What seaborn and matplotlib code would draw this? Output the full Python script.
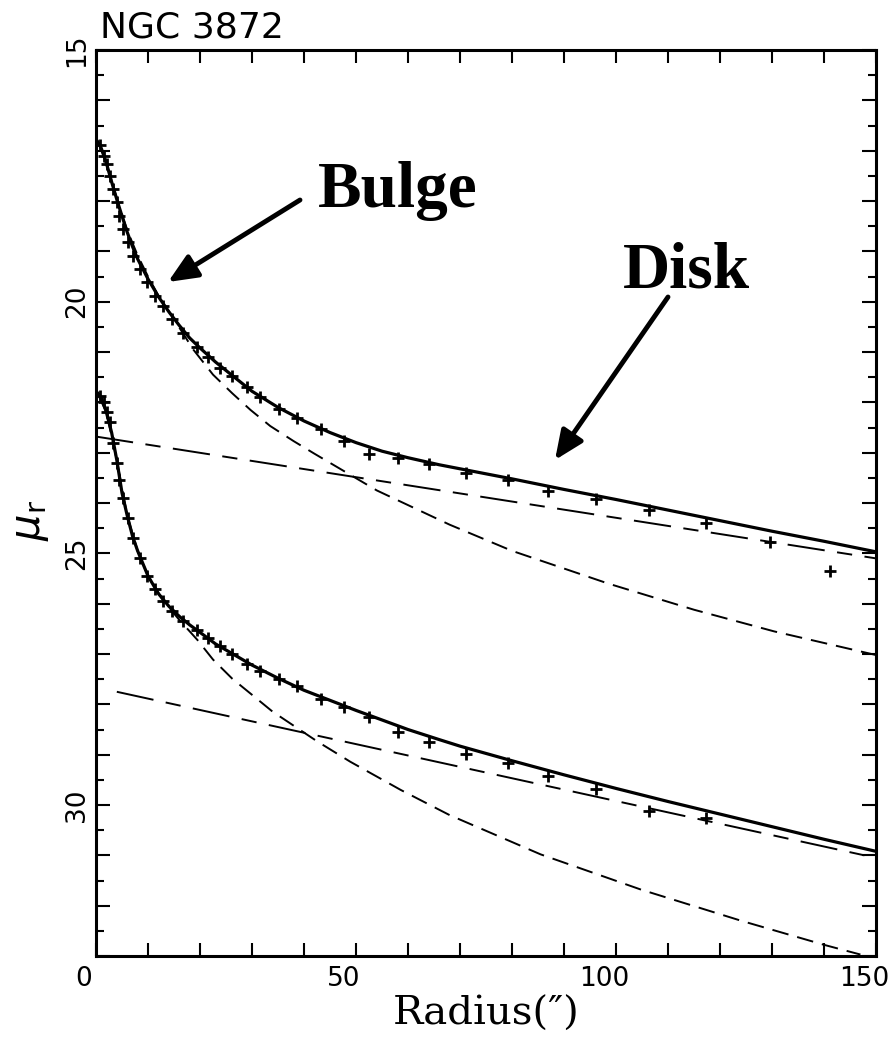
import numpy as np
import pandas as pd
import matplotlib
matplotlib.use("Agg")
import matplotlib.pyplot as plt
import matplotlib.transforms as mtransforms
from matplotlib.ticker import FuncFormatter
import seaborn as sns

# measured points (radius in arcsec, surface brightness in mag/arcsec^2)
r_pts = [0.8, 1.5, 2.1, 2.7, 3.3, 4.0, 4.5, 5.2, 6.2, 7.1, 8.5, 9.8, 11.4, 12.9,
         14.6, 16.7, 19.5, 21.6, 23.9, 26.2, 29.1, 31.6, 35.1, 38.7, 43.2, 47.6,
         52.4, 58.0, 64.0, 71.1, 79.2, 86.9, 96.1, 106.4, 117.3, 129.7, 141.2]
mu_upper_pts = [16.88, 17.11, 17.27, 17.51, 17.77, 18.02, 18.30, 18.56, 18.81, 19.09,
                19.35, 19.60, 19.88, 20.08, 20.34, 20.62, 20.90, 21.10, 21.32, 21.48,
                21.70, 21.90, 22.13, 22.31, 22.53, 22.76, 23.02, 23.10, 23.22, 23.40,
                23.54, 23.76, 23.93, 24.13, 24.39, 24.78, 25.36]
r_lower_pts = r_pts[:35]
mu_lower_pts = [21.88, 22.00, 22.20, 22.40, 22.80, 23.20, 23.55, 23.90, 24.30, 24.70,
                25.10, 25.45, 25.70, 25.95, 26.15, 26.35, 26.52, 26.68, 26.84, 27.00,
                27.19, 27.33, 27.50, 27.63, 27.89, 28.05, 28.25, 28.54, 28.74, 28.99,
                29.17, 29.43, 29.68, 30.12, 30.26]

# total fit (bulge + disk)
r_fit = [0.2, 1, 2, 3, 4, 5, 6, 7, 8, 10, 12, 14, 16, 18, 20, 23, 26, 30, 35, 40,
         45, 50, 55, 60, 66, 70, 80, 90, 100, 110, 120, 130, 140, 150]
mu_upper_fit = [16.80, 16.95, 17.25, 17.62, 17.97, 18.30, 18.62, 18.90, 19.15, 19.55,
                19.90, 20.20, 20.47, 20.72, 20.92, 21.20, 21.45, 21.78, 22.10, 22.37,
                22.60, 22.80, 22.97, 23.10, 23.24, 23.32, 23.52, 23.73, 23.93, 24.14,
                24.35, 24.56, 24.76, 24.97]
mu_lower_fit = [21.80, 21.90, 22.20, 22.60, 23.15, 23.80, 24.25, 24.65, 24.95, 25.45,
                25.80, 26.05, 26.25, 26.42, 26.57, 26.80, 26.98, 27.22, 27.48, 27.72,
                27.92, 28.12, 28.31, 28.50, 28.70, 28.83, 29.12, 29.40, 29.67, 29.93,
                30.18, 30.43, 30.68, 30.92]

# bulge components
r_bulge_upper = [0.2, 1, 2, 4, 6, 8, 10, 12, 15, 18.7, 22.5, 26.2, 29.7, 33.5, 38, 42,
                 54, 68, 80, 98.5, 115, 130.4, 150]
mu_bulge_upper = [16.80, 16.97, 17.25, 17.95, 18.58, 19.08, 19.50, 19.88, 20.35, 20.95,
                  21.45, 21.82, 22.15, 22.47, 22.77, 23.02, 23.75, 24.43, 24.95, 25.60,
                  26.12, 26.55, 27.02]
r_bulge_lower = [0.2, 2, 4, 6, 8, 10, 13, 16, 19.5, 22.5, 26.2, 30, 33.9, 42.6, 48.9,
                 58.6, 68, 85.5, 104.8, 124.1, 140.1, 147]
mu_bulge_lower = [21.80, 22.20, 23.15, 24.25, 24.95, 25.45, 25.95, 26.32, 26.72, 27.11,
                  27.49, 27.81, 28.14, 28.74, 29.14, 29.70, 30.20, 30.98, 31.68, 32.30,
                  32.78, 32.97]

# disk components
r_disk_upper = [0, 150]
mu_disk_upper = [22.68, 25.10]
r_disk_lower = [4, 150]
mu_disk_lower = [27.75, 31.05]

sns.set_style("ticks")
plt.rcParams["font.family"] = ["DejaVu Sans"]
plt.rcParams["lines.scale_dashes"] = False
plt.rcParams["mathtext.fontset"] = "dejavusans"
plt.rcParams["text.color"] = "black"
plt.rcParams["xtick.color"] = "black"
plt.rcParams["ytick.color"] = "black"

fig = plt.figure(figsize=(8.94, 10.46), dpi=100)
ax = fig.add_axes([0.1074, 0.0860, 0.8725, 0.8662])

short_dash = (0, (12, 6.5))
long_dash = (0, (27, 9, 11, 9))

for r, mu in [(r_fit, mu_upper_fit), (r_fit, mu_lower_fit)]:
    sns.lineplot(x=r, y=mu, ax=ax, color="black", linewidth=2.3,
                 errorbar=None, sort=False)
for r, mu in [(r_bulge_upper, mu_bulge_upper), (r_bulge_lower, mu_bulge_lower)]:
    sns.lineplot(x=r, y=mu, ax=ax, color="black", linewidth=1.4,
                 linestyle=short_dash, errorbar=None, sort=False)
for r, mu in [(r_disk_upper, mu_disk_upper), (r_disk_lower, mu_disk_lower)]:
    sns.lineplot(x=r, y=mu, ax=ax, color="black", linewidth=1.4,
                 linestyle=long_dash, errorbar=None, sort=False)

pts = pd.concat([
    pd.DataFrame({"r": r_pts, "mu": mu_upper_pts}),
    pd.DataFrame({"r": r_lower_pts, "mu": mu_lower_pts}),
])
sns.scatterplot(data=pts, x="r", y="mu", ax=ax, marker="+", s=85,
                color="black", linewidth=2.0, zorder=5)

ax.set_xlim(0, 150)
ax.set_ylim(33, 15)

ax.set_xticks([0, 50, 100, 150])
ax.set_xticks(np.arange(0, 151, 10), minor=True)
ax.set_yticks(np.arange(15, 33.1, 1))
ax.set_yticks(np.arange(15, 33.1, 0.5), minor=True)
ax.yaxis.set_major_formatter(FuncFormatter(lambda v, p: f"{int(v)}" if v % 5 == 0 else ""))

ax.tick_params(which="both", direction="in", top=True, right=True,
               width=1.5, colors="black", labelsize=19)
ax.tick_params(axis="x", which="both", length=9.5, pad=7)
ax.tick_params(axis="y", which="major", length=10, pad=4, labelrotation=90)
ax.tick_params(axis="y", which="minor", length=6)
for lab in ax.get_yticklabels():
    lab.set_va("center")

# the old plot package set the x labels a little left of their ticks
shift = mtransforms.ScaledTranslation(-12 / 100, 0, fig.dpi_scale_trans)
for lab in ax.get_xticklabels():
    lab.set_transform(lab.get_transform() + shift)

for sp in ax.spines.values():
    sp.set_linewidth(2.2)
    sp.set_color("black")

ax.set_xlabel("")
ax.set_ylabel("")

fig.text(100 / 894, 1 - 37 / 1046, "NGC 3872", fontsize=26, ha="left", va="baseline")
fig.text(486 / 894, 1 - 1025 / 1046, "Radius(″)", fontsize=29,
         family="DejaVu Serif", ha="center", va="baseline")
fig.text(30 / 894, 525 / 1046, r"$\mu_{\rm r}$", fontsize=30, rotation=90,
         ha="center", va="center", fontweight="bold")

# annotations
arrow = dict(arrowstyle="-|>,head_length=0.8,head_width=0.35", lw=3.5,
             color="black", mutation_scale=22, shrinkA=0, shrinkB=0)
ax.annotate("", xy=(168 / 894, 1 - 282 / 1046), xytext=(300 / 894, 1 - 200 / 1046),
            xycoords="figure fraction", textcoords="figure fraction", arrowprops=arrow)
ax.annotate("", xy=(555 / 894, 1 - 460 / 1046), xytext=(668 / 894, 1 - 297 / 1046),
            xycoords="figure fraction", textcoords="figure fraction", arrowprops=arrow)
fig.text(318 / 894, 1 - 207 / 1046, "Bulge", fontsize=47, fontweight="bold",
         family="Liberation Serif", ha="left", va="baseline")
fig.text(623 / 894, 1 - 288 / 1046, "Disk", fontsize=47, fontweight="bold",
         family="Liberation Serif", ha="left", va="baseline")

fig.savefig("out.png", dpi=100)
